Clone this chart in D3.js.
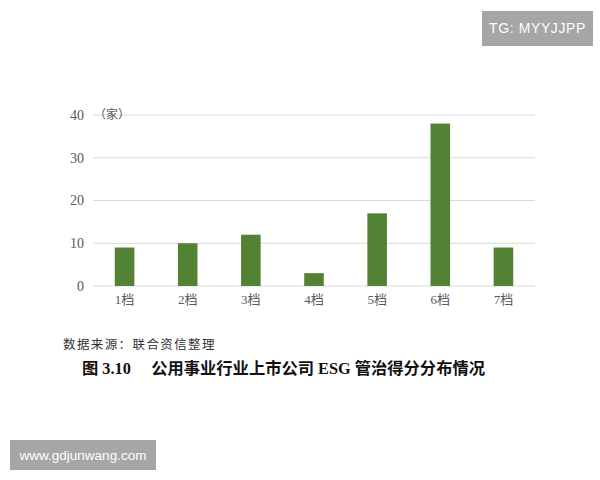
<!DOCTYPE html>
<html><head><meta charset="utf-8">
<script src="https://cdn.jsdelivr.net/npm/d3@7"></script>
<style>body{margin:0;background:#fff}svg{display:block}</style>
</head><body>
<svg id="c" width="600" height="480"></svg>
<script>
const categories = ["1档","2档","3档","4档","5档","6档","7档"];
const values = [9, 10, 12, 3, 17, 38, 9];
const yTicks = [0, 10, 20, 30, 40];
const unitLabel = "（家）";
const sourceText = "数据来源：联合资信整理";
const titleText = "图 3.10　 公用事业行业上市公司 ESG 管治得分分布情况";
const badgeTop = "TG: MYYJJPP";
const badgeBottom = "www.gdjunwang.com";

const svg = d3.select("#c");
const m = {left: 93, right: 535, top: 115, bottom: 286};
const x = d3.scaleBand().domain(categories).range([m.left, m.right]).paddingInner(0.69).paddingOuter(0.345);
const y = d3.scaleLinear().domain([0, 40]).range([m.bottom, m.top]);

// gridlines
svg.append("g").selectAll("line").data(yTicks).join("line")
  .attr("x1", m.left).attr("x2", m.right)
  .attr("y1", d => y(d)).attr("y2", d => y(d))
  .attr("stroke", "#d9d9d9").attr("stroke-width", 1);

// y axis labels
const yAxis = d3.axisLeft(y).tickValues(yTicks).tickSize(0).tickPadding(0);
const yg = svg.append("g").attr("transform", `translate(${m.left - 9},0)`).call(yAxis);
yg.select(".domain").remove();
yg.selectAll("text").attr("font-family", "'Liberation Serif', serif").attr("font-size", 14).attr("fill", "#595959");

svg.append("text").attr("x", m.left + 1).attr("y", y(40)).attr("dy", "0.35em")
  .attr("font-family", "'Noto Sans CJK SC'").attr("font-size", 12).attr("fill", "#595959").text(unitLabel);

// bars
svg.append("g").selectAll("rect").data(values).join("rect")
  .attr("x", (d, i) => x(categories[i])).attr("width", x.bandwidth())
  .attr("y", d => y(d)).attr("height", d => y(0) - y(d))
  .attr("fill", "#548235");

// x axis labels
const xAxis = d3.axisBottom(x).tickSize(0).tickPadding(0);
const xg = svg.append("g").attr("transform", `translate(0,${m.bottom + 9})`).call(xAxis);
xg.select(".domain").remove();
xg.selectAll("text").attr("font-family", "'Liberation Serif','Noto Sans CJK SC', serif").attr("font-size", 13).attr("fill", "#595959");

// source & title
svg.append("text").attr("x", 63).attr("y", 345).attr("dy", "0.35em")
  .attr("font-family", "'Noto Sans CJK SC'").attr("font-size", 12.5).attr("letter-spacing", 1.4).attr("fill", "#333")
  .text(sourceText);
svg.append("text").attr("x", 82).attr("y", 368).attr("dy", "0.35em")
  .attr("font-family", "'Liberation Serif','Noto Sans CJK SC'").attr("font-weight", "bold")
  .attr("font-size", 16.3).attr("fill", "#111").text(titleText);

// badges
function badge(bx, by, bw, bh, t, fs, ls) {
  svg.append("rect").attr("x", bx).attr("y", by).attr("width", bw).attr("height", bh).attr("fill", "#a6a6a6");
  svg.append("text").attr("x", bx + bw / 2).attr("y", by + bh / 2).attr("dy", "0.35em")
    .attr("text-anchor", "middle").attr("font-family", "'Liberation Sans', Arial, sans-serif")
    .attr("font-size", fs).attr("letter-spacing", ls).attr("fill", "#fff").text(t);
}
badge(482, 11, 111, 35, badgeTop, 14, 0.6);
badge(10, 440, 146, 30, badgeBottom, 13.5, 0);
</script>
</body></html>
